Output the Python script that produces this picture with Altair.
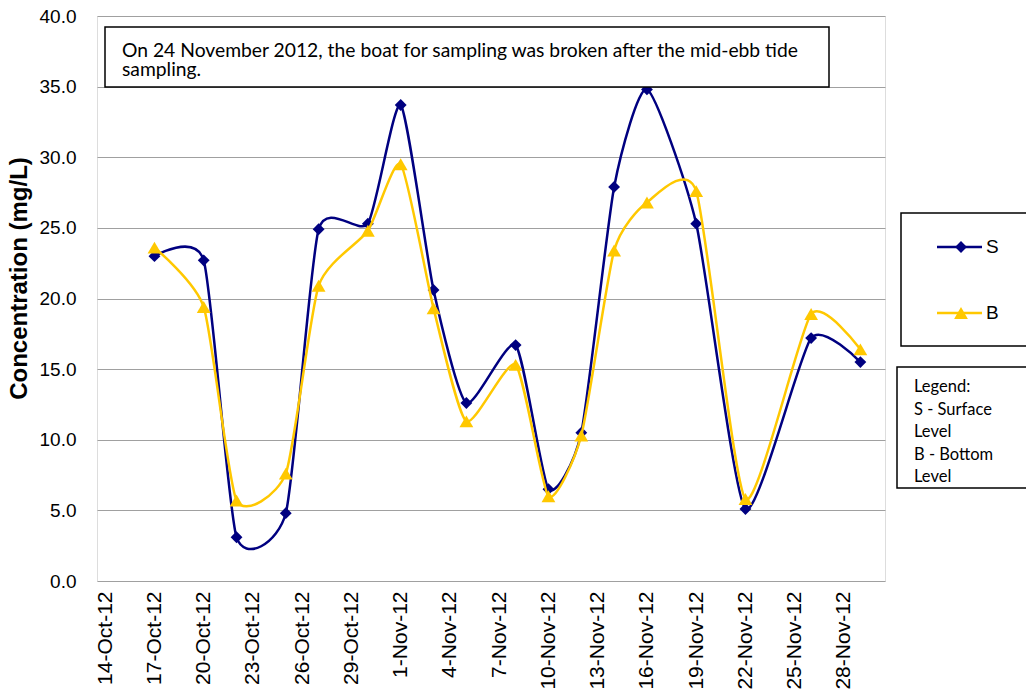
import altair as alt
import pandas as pd

# ---------------- data ----------------
dates = ["2012-10-17", "2012-10-20", "2012-10-22", "2012-10-25", "2012-10-27",
         "2012-10-30", "2012-11-01", "2012-11-03", "2012-11-05", "2012-11-08",
         "2012-11-10", "2012-11-12", "2012-11-14", "2012-11-16", "2012-11-19",
         "2012-11-22", "2012-11-26", "2012-11-29"]
surface = [23.0, 22.7, 3.1, 4.8, 24.9, 25.3, 33.7, 20.6, 12.6, 16.7,
           6.5, 10.5, 27.9, 34.8, 25.3, 5.1, 17.2, 15.5]
bottom = [23.6, 19.4, 5.7, 7.6, 20.9, 24.8, 29.5, 19.3, 11.3, 15.3,
          6.0, 10.3, 23.4, 26.8, 27.6, 5.8, 18.9, 16.4]

series_names = ["S", "B"]
series_colors = ["#000080", "#FFC800"]
series_shapes = ["diamond", "triangle-up"]

tick_dates = ["2012-10-14", "2012-10-17", "2012-10-20", "2012-10-23", "2012-10-26",
              "2012-10-29", "2012-11-01", "2012-11-04", "2012-11-07", "2012-11-10",
              "2012-11-13", "2012-11-16", "2012-11-19", "2012-11-22", "2012-11-25",
              "2012-11-28"]
y_ticks = [0, 5, 10, 15, 20, 25, 30, 35, 40]
y_title = "Concentration (mg/L)"

note_lines = ["On 24 November 2012, the boat for sampling was broken after the mid-ebb tide",
              "sampling."]
legend_note = ["Legend:", "S - Surface", "Level", "B - Bottom", "Level"]


def dt(s, hours=0):
    y, m, d = (int(p) for p in s.split("-"))
    return alt.DateTime(year=y, month=m, date=d, hours=hours, utc=True)


W, H = 788, 565
AXIS_FONT = "Liberation Sans"
NOTE_FONT = "Lato"

x_enc = alt.X(
    "date:T",
    scale=alt.Scale(type="utc", domain=[dt("2012-10-13", 12), dt("2012-11-30", 12)]),
    axis=alt.Axis(
        values=[dt(t) for t in tick_dates],
        labelExpr="utcFormat(datum.value, '%-d-%b-%y')",
        labelAngle=-90, labelAlign="right", labelBaseline="middle",
        labelFont=AXIS_FONT, labelFontSize=21, labelColor="black",
        labelPadding=10, labelOverlap=False, labelFlush=False,
        ticks=False, domain=False, grid=False, title=None,
    ),
)
y_enc = alt.Y(
    "value:Q",
    scale=alt.Scale(domain=[0, 40], nice=False, zero=True),
    axis=alt.Axis(
        values=y_ticks, format=".1f",
        labelFont=AXIS_FONT, labelFontSize=19, labelColor="black", labelPadding=21,
        ticks=False, domain=False,
        grid=True, gridColor="#A0A0A0", gridWidth=1,
        title=y_title, titleFont=AXIS_FONT, titleFontSize=24, titleFontWeight="bold",
        titleColor="black", titleX=-66, titleY=262, titleAngle=-90,
        titleAlign="center", titleBaseline="bottom",
    ),
)

layers = []
for name, vals, color, shape in zip(series_names, [surface, bottom], series_colors, series_shapes):
    df = pd.DataFrame({"date": dates, "value": vals, "series": name})
    base = alt.Chart(df)
    layers.append(base.mark_line(color=color, strokeWidth=2.5, interpolate="cardinal",
                                 tension=0.4)
                  .encode(x=x_enc, y=y_enc))
    layers.append(base.mark_point(shape=shape, filled=True, color=color, opacity=1,
                                  size=140 if shape == "diamond" else 190)
                  .encode(x=x_enc, y=y_enc))

# ---------- annotation box (top) ----------
layers.append(alt.Chart(pd.DataFrame({"a": [0]})).mark_rect(
    fill="white", stroke="black", strokeWidth=1.5, clip=False).encode(
    x=alt.value(8), x2=alt.value(732), y=alt.value(11), y2=alt.value(71)))
for i, line in enumerate(note_lines):
    layers.append(alt.Chart(pd.DataFrame({"t": [line]})).mark_text(
        font=NOTE_FONT, fontSize=19.3, color="black", align="left", baseline="alphabetic",
        clip=False).encode(text="t:N", x=alt.value(25), y=alt.value(41 + 19 * i)))

# ---------- series legend box ----------
layers.append(alt.Chart(pd.DataFrame({"a": [0]})).mark_rect(
    fill="white", stroke="black", strokeWidth=1.5, clip=False).encode(
    x=alt.value(804), x2=alt.value(960), y=alt.value(197), y2=alt.value(330)))
for k, (name, color, shape) in enumerate(zip(series_names, series_colors, series_shapes)):
    yy = 231 + 66 * k
    ldf = pd.DataFrame({"t": [name]})
    layers.append(alt.Chart(ldf).mark_rule(color=color, strokeWidth=2.5, clip=False).encode(
        x=alt.value(840), x2=alt.value(885), y=alt.value(yy)))
    layers.append(alt.Chart(ldf).mark_point(shape=shape, filled=True, color=color, opacity=1,
                                            size=140 if shape == "diamond" else 190,
                                            clip=False).encode(
        x=alt.value(864), y=alt.value(yy)))
    layers.append(alt.Chart(ldf).mark_text(font=AXIS_FONT, fontSize=19, color="black",
                                           align="left", baseline="middle", clip=False).encode(
        text="t:N", x=alt.value(889), y=alt.value(yy)))

# ---------- note legend box ----------
layers.append(alt.Chart(pd.DataFrame({"a": [0]})).mark_rect(
    fill="white", stroke="black", strokeWidth=1.5, clip=False).encode(
    x=alt.value(800), x2=alt.value(960), y=alt.value(351), y2=alt.value(472)))
for i, line in enumerate(legend_note):
    layers.append(alt.Chart(pd.DataFrame({"t": [line]})).mark_text(
        font=NOTE_FONT, fontSize=16.5, color="black", align="left", baseline="alphabetic",
        clip=False).encode(text="t:N", x=alt.value(817), y=alt.value(376 + 22.5 * i)))

chart = alt.layer(*layers).properties(
    width=W, height=H,
    autosize=alt.AutoSizeParams(type="none"),
    padding={"left": 89, "top": 8, "right": 141, "bottom": 109},
).configure_view(
    stroke="black", strokeWidth=2
).configure(background="white")

chart.save("out.html", embed_options={"renderer": "svg", "actions": False})
